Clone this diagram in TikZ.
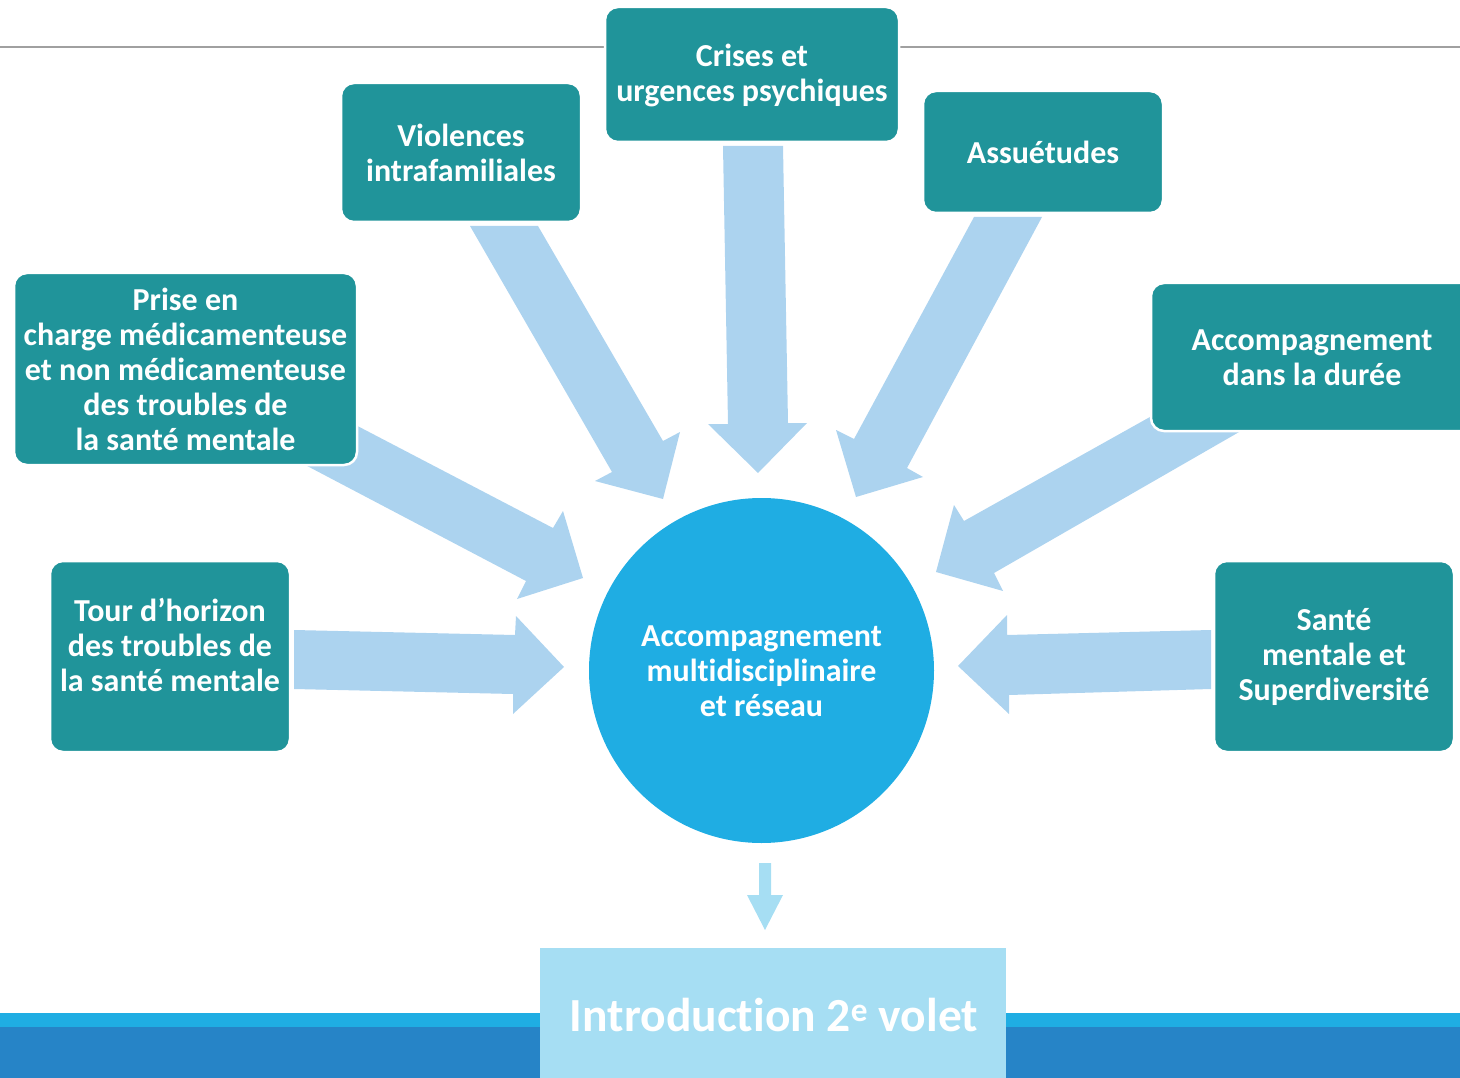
\documentclass[tikz,border=0pt]{standalone}
\usepackage{fontspec}
\setmainfont{Carlito}[Ligatures=CommonOff]
\definecolor{teal1}{HTML}{20949A}
\definecolor{circ}{HTML}{1FADE3}
\definecolor{arr}{HTML}{ACD3EF}
\definecolor{introc}{HTML}{A6DEF3}
\definecolor{bandl}{HTML}{1FADE3}
\definecolor{bandd}{HTML}{2684C7}
\definecolor{lgray}{HTML}{A0A0A0}
\begin{document}
\begin{tikzpicture}[x=1pt,y=-1pt,
  box/.style={draw=white,line width=2.5pt,fill=teal1,rounded corners=13pt,inner sep=0pt},
  txt/.style={text=white,font=\fontsize{32}{35}\selectfont\bfseries,align=center,inner sep=0pt},
  bigarrow/.style={fill=arr,draw=none}]
\useasboundingbox (0,0) rectangle (1460,1078);
\begin{scope}
\clip (0,0) rectangle (1460,1078);
% top line
\draw[lgray,line width=1.5pt] (0,47) -- (1460,47);
% bottom bands
\fill[bandl] (0,1013) rectangle (1460,1027);
\fill[bandd] (0,1027) rectangle (1460,1078);
% block arrows
\fill[bigarrow] (723,146) -- (783,146) -- (788,423) -- (807,423) -- (758,473) -- (708,424) -- (728,424) -- cycle;
\fill[bigarrow] (470,226) -- (538,226) -- (663,441) -- (680,432) -- (663,499) -- (595,481) -- (612,472) -- cycle;
\fill[bigarrow] (974,217) -- (1042,217) -- (907,468) -- (923,477) -- (856,497) -- (836,430) -- (854,439) -- cycle;
\fill[bigarrow] (300,396) -- (553,528) -- (563,511) -- (583,578) -- (517,599) -- (526,581) -- (252,437) -- cycle;
\fill[bigarrow] (1200,389) -- (964,521) -- (954,505) -- (936,572) -- (1003,591) -- (994,573) -- (1260,420) -- cycle;
\fill[bigarrow] (294,630) -- (515,635) -- (516,616) -- (564,667) -- (513,714) -- (513,694) -- (294,689) -- cycle;
\fill[bigarrow] (1211,630) -- (1007,635) -- (1007,615) -- (958,666) -- (1009,714) -- (1009,695) -- (1211,689) -- cycle;
% boxes
\node[box,minimum width=294pt,minimum height=135pt] (crises) at (752,74.5) {};
\node[txt] at (752,75) {Crises et\\urgences psychiques};
\node[box,minimum width=240pt,minimum height=139pt] (viol) at (461,152.5) {};
\node[txt] at (461,153) {Violences\\intrafamiliales};
\node[box,minimum width=240pt,minimum height=122pt] (assu) at (1043,152) {};
\node[txt] at (1043,152) {Assuétudes};
\node[box,minimum width=343pt,minimum height=192pt] (prise) at (185.5,369) {};
\node[txt] at (185.5,369) {Prise en\\charge médicamenteuse\\et non médicamenteuse\\des troubles de\\la santé mentale};
\node[box,minimum width=324pt,minimum height=148pt] (duree) at (1313,357) {};
\node[txt] at (1312,358) {Accompagnement\\dans la durée};
\node[box,minimum width=240pt,minimum height=191pt] (tour) at (170,656.5) {};
\node[txt] at (170,645) {Tour d’horizon\\des troubles de\\la santé mentale};
\node[box,minimum width=240pt,minimum height=191pt] (sante) at (1334,656.5) {};
\node[txt] at (1334,657) {Santé\\mentale et\\Superdiversité};
% circle
\node[circle,fill=circ,minimum size=345pt,inner sep=0pt] (centre) at (761.5,670.5) {};
\node[txt] at (761.5,671) {Accompagnement\\multidisciplinaire\\et réseau};
% small arrow
\fill[introc] (759,863) -- (771,863) -- (771,895) -- (783,895) -- (765,930) -- (747,895) -- (759,895) -- cycle;
% intro box
\node[fill=introc,minimum width=466pt,minimum height=140pt,inner sep=0pt] (intro) at (773,1018) {};
\node[text=white,font=\fontsize{47.5}{54}\selectfont\bfseries,inner sep=0pt,anchor=base] at (774,1031) {Introduction 2\textsuperscript{e} volet};
\end{scope}
\end{tikzpicture}
\end{document}
